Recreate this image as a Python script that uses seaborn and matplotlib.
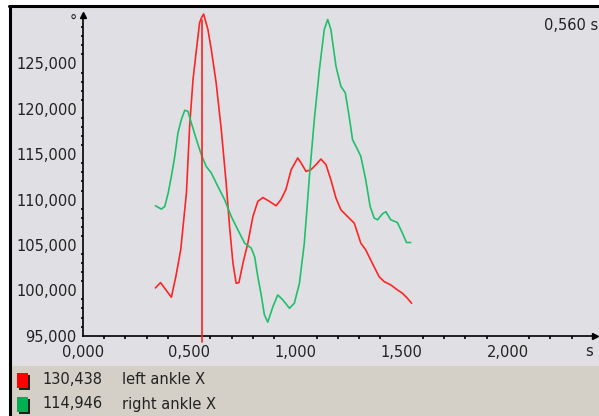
import numpy as np
import pandas as pd
import matplotlib
matplotlib.use("Agg")
import matplotlib.pyplot as plt
from matplotlib.patches import Rectangle
from matplotlib.lines import Line2D
from matplotlib.ticker import FuncFormatter, MultipleLocator
import seaborn as sns

# ---------------- data ----------------
series_names = ["left ankle X", "right ankle X"]
series_colors = ["#ff2424", "#1fbf6c"]
legend_colors = ["#ff0000", "#00b050"]

left_t = [0.341, 0.365, 0.416, 0.437, 0.460, 0.487, 0.502, 0.518, 0.534, 0.549,
          0.557, 0.568, 0.588, 0.604, 0.627, 0.651, 0.674, 0.690, 0.706, 0.721,
          0.734, 0.753, 0.776, 0.800, 0.823, 0.847, 0.878, 0.909, 0.932, 0.955,
          0.980, 1.011, 1.027, 1.050, 1.073, 1.097, 1.120, 1.144, 1.167, 1.191,
          1.214, 1.245, 1.277, 1.308, 1.331, 1.362, 1.394, 1.418, 1.449, 1.480,
          1.504, 1.527, 1.547]
left_v = [100.27, 100.85, 99.24, 101.50, 104.46, 110.75, 118.07, 123.23, 126.54, 129.49,
          130.00, 130.45, 128.75, 126.54, 122.86, 117.71, 111.82, 107.03, 102.99, 100.78,
          100.85, 102.99, 105.20, 108.14, 109.80, 110.23, 109.80, 109.32, 110.00, 111.09,
          113.29, 114.59, 114.03, 113.11, 113.29, 113.85, 114.47, 113.85, 112.19, 110.17,
          108.88, 108.14, 107.41, 105.20, 104.46, 102.99, 101.51, 100.96, 100.60, 100.05,
          99.68, 99.13, 98.58]

right_t = [0.341, 0.369, 0.385, 0.401, 0.416, 0.432, 0.447, 0.463, 0.479, 0.494,
           0.510, 0.534, 0.557, 0.580, 0.604, 0.635, 0.667, 0.698, 0.729, 0.761,
           0.792, 0.808, 0.823, 0.839, 0.854, 0.870, 0.894, 0.917, 0.941, 0.972,
           0.995, 1.019, 1.042, 1.066, 1.089, 1.113, 1.136, 1.152, 1.167, 1.191,
           1.214, 1.235, 1.253, 1.269, 1.293, 1.308, 1.331, 1.352, 1.371, 1.387,
           1.410, 1.426, 1.449, 1.480, 1.504, 1.523, 1.543]
right_v = [109.32, 108.95, 109.24, 110.72, 112.55, 114.76, 117.34, 118.81, 119.84, 119.73,
           118.45, 116.61, 114.95, 113.66, 112.93, 111.45, 109.98, 108.14, 106.67, 105.20,
           104.65, 103.72, 101.51, 99.50, 97.30, 96.50, 98.20, 99.49, 98.94, 98.02,
           98.58, 100.78, 105.20, 112.55, 118.81, 124.33, 128.75, 129.85, 128.75, 124.70,
           122.49, 121.76, 119.18, 116.61, 115.50, 114.76, 112.19, 109.24, 107.96, 107.77,
           108.44, 108.66, 107.77, 107.48, 106.30, 105.27, 105.27]

cursor_time = 0.560
cursor_values = [130.438, 114.946]

x_ticks = [0.0, 0.5, 1.0, 1.5, 2.0]
y_ticks = [95, 100, 105, 110, 115, 120, 125]
x_unit = "s"
y_unit = "°"

df = pd.concat([
    pd.DataFrame({"t": left_t, "v": left_v, "series": series_names[0]}),
    pd.DataFrame({"t": right_t, "v": right_v, "series": series_names[1]}),
], ignore_index=True)

# ---------------- figure ----------------
sns.set_style("white")
plt.rcParams["font.family"] = ["DejaVu Sans"]

W, H = 599, 416
fig = plt.figure(figsize=(W / 100, H / 100), dpi=100, facecolor="white")

def fx(px):
    return px / W

def fy(py):
    return (H - py) / H

plot_bg = "#e0e0e4"
legend_bg = "#d4d0c8"
fig.patches.append(Rectangle((fx(11), fy(366)), fx(599) - fx(11), fy(8) - fy(366),
                             transform=fig.transFigure, facecolor=plot_bg, edgecolor="none", zorder=0))
fig.patches.append(Rectangle((fx(11), fy(416)), fx(599) - fx(11), fy(366) - fy(416),
                             transform=fig.transFigure, facecolor=legend_bg, edgecolor="none", zorder=0))
# black frame top/left
fig.lines.append(Line2D([fx(8.5), fx(599)], [fy(6.3), fy(6.3)], transform=fig.transFigure,
                        color="black", linewidth=2.2, zorder=1))
fig.lines.append(Line2D([fx(9.5), fx(9.5)], [fy(5.5), fy(416)], transform=fig.transFigure,
                        color="black", linewidth=2.2, zorder=1))

x0_px, y0_px = 83, 335.7
x1_px, y1_px = 595, 15
px_per_s = 212.4
px_per_deg = 9.074

ax = fig.add_axes([fx(x0_px), fy(y0_px), fx(x1_px) - fx(x0_px), fy(y1_px) - fy(y0_px)])
ax.set_zorder(5)
ax.set_facecolor("none")
ax.patch.set_alpha(0)
ax.set_xlim(0, (x1_px - x0_px) / px_per_s)
ax.set_ylim(95, 95 + (y0_px - y1_px) / px_per_deg)

sns.lineplot(data=df, x="t", y="v", hue="series", palette=series_colors,
             hue_order=series_names, estimator=None, sort=True, linewidth=1.2,
             legend=False, ax=ax, clip_on=False, zorder=3)

# cursor line
ax.axvline(cursor_time, ymin=-0.02, ymax=(y0_px - 20) / (y0_px - y1_px),
           color="#ff2020", linewidth=1.2, clip_on=False, zorder=4)

for side in ["top", "right"]:
    ax.spines[side].set_visible(False)
for side in ["left", "bottom"]:
    ax.spines[side].set_color("black")
    ax.spines[side].set_linewidth(1.2)

ax.plot(0, 1, marker="^", color="black", markersize=5, transform=ax.transAxes, clip_on=False)
ax.plot(1, 0, marker=">", color="black", markersize=5, transform=ax.transAxes, clip_on=False)

fmt = FuncFormatter(lambda v, p: f"{v:.3f}".replace(".", ","))
ax.xaxis.set_major_formatter(fmt)
ax.yaxis.set_major_formatter(fmt)
ax.set_xticks(x_ticks)
ax.set_yticks(y_ticks)
ax.xaxis.set_minor_locator(MultipleLocator(0.1))
ax.yaxis.set_minor_locator(MultipleLocator(1))
ax.tick_params(which="major", direction="inout", length=5, width=1.2, color="black",
               labelsize=10.5, labelcolor="#222222")
ax.tick_params(which="minor", direction="out", length=1.8, width=1.2, color="black")
ax.tick_params(axis="y", which="major", pad=2)
ax.tick_params(axis="x", which="major", pad=4)
ax.tick_params(axis="y", which="minor", left=True)
ax.tick_params(axis="x", which="minor", bottom=True)
ax.set_xlabel("")
ax.set_ylabel("")
ax.grid(False)

# unit labels
fig.text(fx(589), fy(352), x_unit, ha="center", va="center", fontsize=10.5, color="#222222")
fig.text(fx(73), fy(21), y_unit, ha="center", va="center", fontsize=10.5, color="#222222")
fig.text(fx(598), fy(26), f"{cursor_time:.3f}".replace(".", ",") + " s", ha="right",
         va="center", fontsize=10.5, color="#222222")

# legend rows
row_y = [380, 404]
for i, name in enumerate(series_names):
    cy = row_y[i]
    fig.patches.append(Rectangle((fx(18.5), fy(cy + 9.5)), fx(11), fy(0) - fy(15),
                                 transform=fig.transFigure, facecolor="#202020", edgecolor="none", zorder=2))
    fig.patches.append(Rectangle((fx(17), fy(cy + 8)), fx(11), fy(0) - fy(15),
                                 transform=fig.transFigure, facecolor=legend_colors[i], edgecolor="none", zorder=3))
    fig.text(fx(42), fy(cy), f"{cursor_values[i]:.3f}".replace(".", ","), ha="left", va="center",
             fontsize=10.5, color="#222222")
    fig.text(fx(122), fy(cy), name, ha="left", va="center", fontsize=10.5, color="#222222")

fig.savefig("out.png", dpi=100, facecolor="white")
